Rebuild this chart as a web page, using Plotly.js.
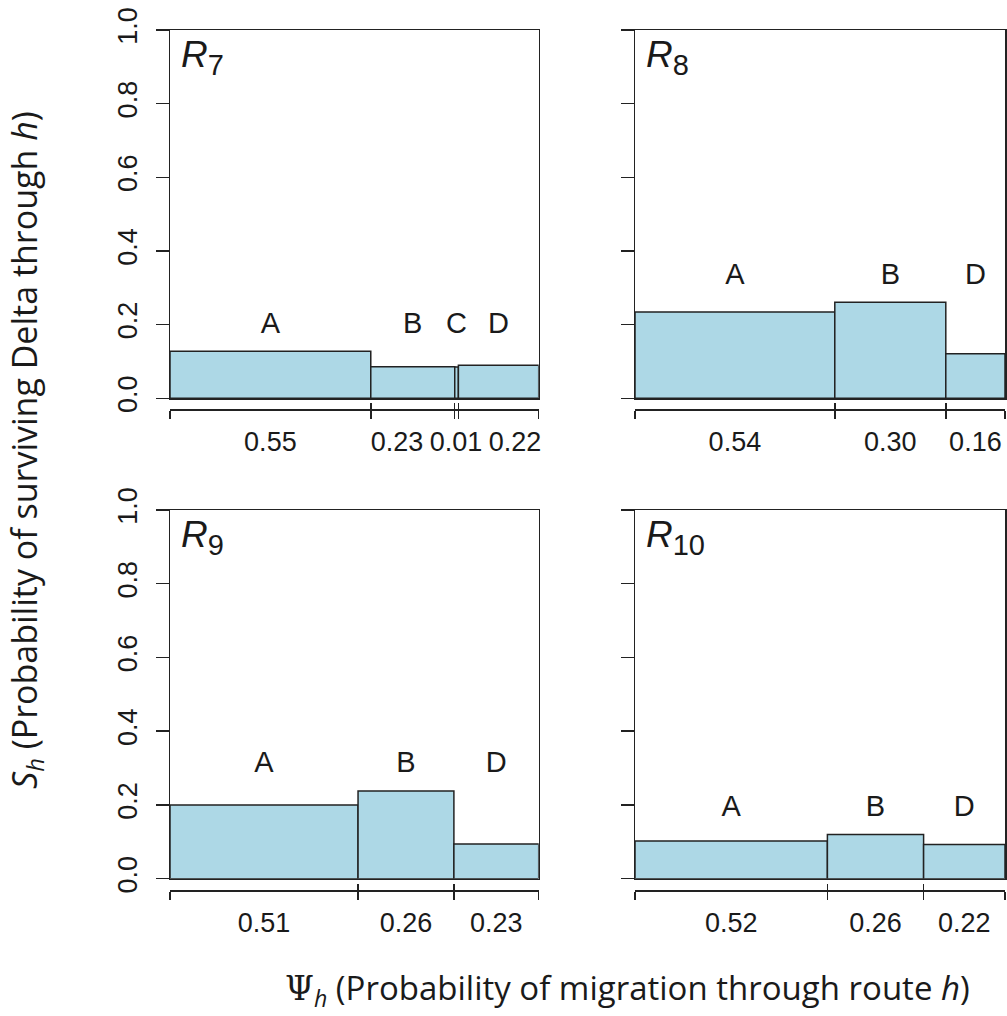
<!DOCTYPE html>
<html>
<head>
<meta charset="utf-8">
<script src="https://cdn.plot.ly/plotly-3.0.1.min.js"></script>
<style>html,body{margin:0;padding:0;background:#fff;}#chart{width:1007px;height:1016px;}</style>
</head>
<body>
<div id="chart"></div>
<script>
// ---- data ----
const panelNames = ['7', '8', '9', '10'];

const routesR7 = ['A', 'B', 'C', 'D'];
const psiR7 = [0.55, 0.23, 0.01, 0.22];
const survR7 = [0.128, 0.086, 0.085, 0.090];

const routesR8 = ['A', 'B', 'D'];
const psiR8 = [0.54, 0.30, 0.16];
const survR8 = [0.234, 0.261, 0.121];

const routesR9 = ['A', 'B', 'D'];
const psiR9 = [0.51, 0.26, 0.23];
const survR9 = [0.200, 0.238, 0.094];

const routesR10 = ['A', 'B', 'D'];
const psiR10 = [0.52, 0.26, 0.22];
const survR10 = [0.102, 0.120, 0.093];

const yTickVals = [0, 0.2, 0.4, 0.6, 0.8, 1.0];

const yTitle = '<i>S</i><sub><i>h</i></sub> (Probability of surviving Delta through <i>h</i>)';
const xTitle = '<span style="font-family:\'DejaVu Serif\'">Ψ</span><sub><i>h</i></sub> (Probability of migration through route <i>h</i>)';

// ---- layout geometry (pixels) ----
const W = 1007, H = 1016;
const colX = [[170, 538.7], [635, 1005]];
const rowY = [[30, 398.3], [510, 878.7]];
const axisLineY = [409.3, 890];
const px2x = p => p / W;
const px2y = p => 1 - p / H;
const LABEL_PX = 59; // minimum spacing between psi label centres, px

const LINE = '#222222';
const SANS = 'Liberation Sans, Arial, sans-serif';
const TITLEFONT = 'Open Sans, sans-serif';

const panels = [
  {name: panelNames[0], routes: routesR7, psi: psiR7, surv: survR7},
  {name: panelNames[1], routes: routesR8, psi: psiR8, surv: survR8},
  {name: panelNames[2], routes: routesR9, psi: psiR9, surv: survR9},
  {name: panelNames[3], routes: routesR10, psi: psiR10, surv: survR10}
];

const axName = (k) => k === 1 ? 'xaxis' : 'xaxis' + k;
const axId = (k) => k === 1 ? 'x' : 'x' + k;
const yName = (k) => k === 1 ? 'yaxis' : 'yaxis' + k;
const yId = (k) => k === 1 ? 'y' : 'y' + k;

// spread label positions so neighbouring labels do not overlap
function spread(pos, minSep) {
  const out = pos.slice();
  for (let it = 0; it < 200; it++) {
    let moved = false;
    for (let j = 0; j < out.length - 1; j++) {
      const gap = out[j + 1] - out[j];
      if (gap < minSep - 1e-9) {
        const d = (minSep - gap) / 2;
        out[j] -= d; out[j + 1] += d; moved = true;
      }
    }
    if (!moved) break;
  }
  return out;
}

const traces = [];
const layout = {
  width: W, height: H,
  margin: {l: 0, r: 0, t: 0, b: 0},
  paper_bgcolor: '#fff', plot_bgcolor: 'rgba(0,0,0,0)',
  showlegend: false,
  barmode: 'overlay',
  font: {family: SANS, color: '#1a1a1a'},
  annotations: []
};

panels.forEach((p, i) => {
  const col = i % 2, row = Math.floor(i / 2);
  const n = i * 4 + 1;
  const xa = axId(n), xb = axId(n + 1), xc = axId(n + 2), xd = axId(n + 3);
  const ya = yId(i + 1);

  const bounds = [0];
  p.psi.forEach(w => bounds.push(bounds[bounds.length - 1] + w));
  const total = bounds[bounds.length - 1];
  const centers = p.psi.map((w, j) => bounds[j] + w / 2);
  const labelY = Math.max(...p.surv) + 0.07;
  const widthPx = colX[col][1] - colX[col][0];
  const labelPos = spread(centers, LABEL_PX / widthPx * total);

  const domX = [px2x(colX[col][0]), px2x(colX[col][1])];
  const domY = [px2y(rowY[row][1]), px2y(rowY[row][0])];
  const pos = px2y(axisLineY[row]);

  // axis line below the box with ticks at route boundaries (down part)
  layout[axName(n)] = {
    domain: domX, range: [0, total], anchor: 'free', position: pos,
    showline: true, linecolor: LINE, linewidth: 1.5,
    tickmode: 'array', tickvals: bounds, showticklabels: false,
    ticks: 'outside', ticklen: 8, tickwidth: 1.5, tickcolor: LINE,
    showgrid: false, zeroline: false, fixedrange: true
  };
  // upper part of the crossing ticks
  layout[axName(n + 1)] = {
    domain: domX, range: [0, total], anchor: 'free', position: pos, overlaying: xa,
    showline: false, tickmode: 'array', tickvals: bounds, showticklabels: false,
    ticks: 'inside', ticklen: 6, tickwidth: 1.5, tickcolor: LINE,
    showgrid: false, zeroline: false, fixedrange: true
  };
  // psi labels under each segment
  layout[axName(n + 2)] = {
    domain: domX, range: [0, total], anchor: 'free', position: pos, overlaying: xa,
    showline: false, tickmode: 'array', tickvals: labelPos, ticktext: p.psi.map(v => v.toFixed(2)),
    ticks: '', ticklabelstandoff: 14, tickangle: 0,
    tickfont: {size: 27, family: SANS, color: '#1a1a1a'},
    showgrid: false, zeroline: false, fixedrange: true
  };
  // box top/bottom
  layout[axName(n + 3)] = {
    domain: domX, range: [0, total], anchor: ya, overlaying: xa,
    showline: true, mirror: true, linecolor: LINE, linewidth: 1.5,
    ticks: '', showticklabels: false, showgrid: false, zeroline: false, fixedrange: true
  };
  layout[yName(i + 1)] = {
    domain: domY, range: [0, 1], anchor: xa,
    tickmode: 'array', tickvals: yTickVals, ticktext: yTickVals.map(v => v.toFixed(1)),
    ticks: 'outside', ticklen: 13, tickwidth: 1.5, tickcolor: LINE,
    showticklabels: col === 0, tickangle: -90, ticklabelstandoff: 8,
    tickfont: {size: 27, family: SANS, color: '#1a1a1a'},
    showline: true, mirror: true, linecolor: LINE, linewidth: 1.5,
    showgrid: false, zeroline: false, fixedrange: true
  };

  traces.push({
    type: 'bar', x: centers, y: p.surv, width: p.psi, base: 0,
    xaxis: xa, yaxis: ya,
    marker: {color: '#ADD8E6', line: {color: LINE, width: 1.5}},
    hoverinfo: 'skip'
  });
  traces.push({
    type: 'scatter', mode: 'text', x: centers, y: centers.map(() => labelY), text: p.routes,
    textposition: 'middle center', textfont: {size: 29, family: SANS, color: '#1a1a1a'},
    xaxis: xc, yaxis: ya, hoverinfo: 'skip', cliponaxis: false
  });
  traces.push({type: 'scatter', mode: 'none', x: centers, y: p.surv, xaxis: xb, yaxis: ya, hoverinfo: 'skip'});
  traces.push({type: 'scatter', mode: 'none', x: centers, y: p.surv, xaxis: xd, yaxis: ya, hoverinfo: 'skip'});

  layout.annotations.push({
    xref: xa + ' domain', yref: ya + ' domain', x: 0.025, y: 0.995,
    xanchor: 'left', yanchor: 'top', showarrow: false,
    text: '<i>R</i><sub><span style="font-size:29px">' + p.name + '</span></sub>',
    font: {size: 37, family: SANS, color: '#1a1a1a'}
  });
});

layout.annotations.push({
  xref: 'paper', yref: 'paper', x: px2x(26), y: px2y(450), textangle: -90,
  xanchor: 'center', yanchor: 'middle', showarrow: false,
  text: yTitle, font: {size: 34, family: TITLEFONT, color: '#1a1a1a'}
});
layout.annotations.push({
  xref: 'paper', yref: 'paper', x: px2x(627), y: px2y(989),
  xanchor: 'center', yanchor: 'middle', showarrow: false,
  text: xTitle, font: {size: 33, family: TITLEFONT, color: '#1a1a1a'}
});

Plotly.newPlot('chart', traces, layout, {staticPlot: true, displayModeBar: false});
</script>
</body>
</html>
